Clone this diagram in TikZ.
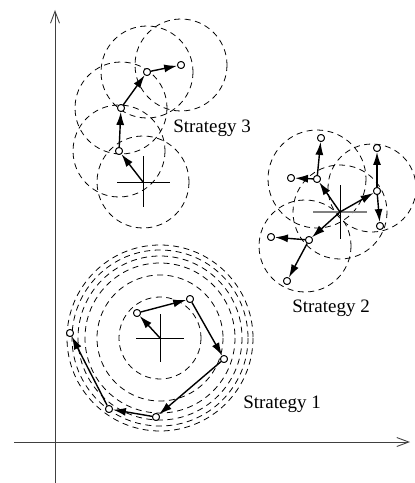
\documentclass[tikz,border=0pt]{standalone}
\usepackage{fontspec}
\setmainfont{Liberation Serif}
\usetikzlibrary{arrows.meta, positioning}

\begin{document}
\begin{tikzpicture}[x=0.02cm, y=-0.02cm,
  pt/.style={circle, draw, fill=white, inner sep=0pt, minimum size=1.4mm, line width=0.5pt},
  mv/.style={-{Latex[length=2.6mm, width=1.6mm]}, line width=0.8pt},
  ring/.style={dash pattern=on 1.2mm off 0.9mm, line width=0.45pt},
  axis/.style={black!75, line width=0.5pt, -{Straight Barb[length=2.4mm, width=1.8mm]}},
  lbl/.style={font=\fontsize{10.8}{13}\selectfont}]
  \useasboundingbox (0,0) rectangle (414,483);

  % 坐标轴
  \coordinate (ob) at (55,483);
  \coordinate (ot) at (55,10);
  \coordinate (ol) at (14,442);
  \coordinate (or) at (410,442);
  \draw[axis] (ob) -- (ot);
  \draw[axis] (ol) -- (or);

  % 三个中心
  \coordinate (c1) at (160,338);
  \coordinate (c2) at (340,212);
  \coordinate (c3) at (143,182);

  % 策略 1：同心圆
  \foreach \r in {41,63,75,82,88,93} {
    \draw[ring] (c1) circle (\r);
  }
  \node[pt] (a0) at (137,313) {};
  \node[pt] (a1) at (190,299) {};
  \node[pt] (a2) at (224,359) {};
  \node[pt] (a3) at (156,417) {};
  \node[pt] (a4) at (109,409) {};
  \node[pt] (a5) at (70,333) {};

  % 策略 2：分支
  \node[pt] (d1) at (377,191) {};
  \node[pt] (d1a) at (377,148) {};
  \node[pt] (d1b) at (380,226) {};
  \node[pt] (d2) at (317,179) {};
  \node[pt] (d2a) at (321,138) {};
  \node[pt] (d2b) at (291,178) {};
  \node[pt] (d3) at (309,240) {};
  \node[pt] (d3a) at (271,237) {};
  \node[pt] (d3b) at (287,281) {};
  \draw[ring] (c2) circle (47);
  \draw[ring] (372,188) circle (44);
  \draw[ring] (d2) circle (49);
  \draw[ring] (305,246) circle (46);

  % 策略 3：链
  \node[pt] (b1) at (119,151) {};
  \node[pt] (b2) at (121,108) {};
  \node[pt] (b3) at (147,72) {};
  \node[pt] (b4) at (181,65) {};
  \foreach \p in {c3,b1,b2,b3,b4} {
    \draw[ring] (\p) circle (46);
  }

  % 十字
  \draw[line width=0.5pt] (c1) ++(-24,0) -- ++(48,0);
  \draw[line width=0.5pt] (c1) ++(0,-24) -- ++(0,48);
  \draw[line width=0.6pt, gray] (c2) ++(-27,0) -- ++(54,0);
  \draw[line width=0.5pt] (c2) ++(0,-27) -- ++(0,54);
  \draw[line width=0.5pt] (c3) ++(-26,0) -- ++(53,0);
  \draw[line width=0.5pt] (c3) ++(0,-26) -- ++(0,51);

  % 移动箭头
  \foreach \s/\t in {c1/a0, a0/a1, a1/a2, a2/a3, a3/a4, a4/a5,
                     c2/d1, d1/d1a, d1/d1b, c2/d2, d2/d2a, d2/d2b,
                     c2/d3, d3/d3a, d3/d3b,
                     c3/b1, b1/b2, b2/b3, b3/b4} {
    \draw[mv] (\s) -- (\t);
  }

  % 重画小圆
  \foreach \p in {a0,a1,a2,a3,a4,a5,d1,d1a,d1b,d2,d2a,d2b,d3,d3a,d3b,b1,b2,b3,b4} {
    \node[pt] at (\p) {};
  }

  % 标签
  \node[lbl] (s1) at (282,404) {Strategy 1};
  \node[lbl] (s2) at (331,308) {Strategy 2};
  \node[lbl] (s3) at (212,128) {Strategy 3};
\end{tikzpicture}
\end{document}
